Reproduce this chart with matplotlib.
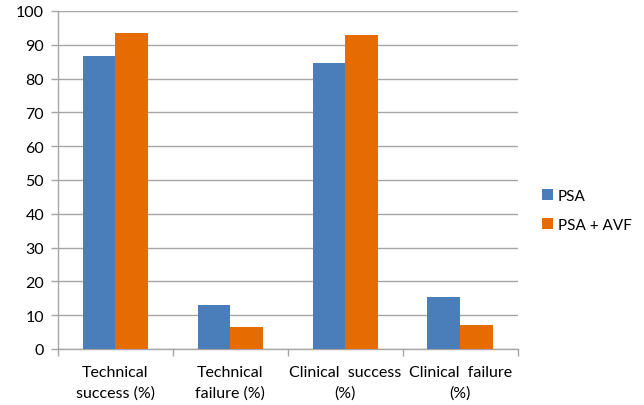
import matplotlib.pyplot as plt
import numpy as np

plt.rcParams['font.family'] = ['Lato', 'DejaVu Sans']

# categorias e valores (%)
categorias = ['Technical\nsuccess (%)', 'Technical\nfailure (%)',
              'Clinical  success\n(%)', 'Clinical  failure\n(%)']
psa = [86.6, 13.0, 84.6, 15.3]
psa_avf = [93.4, 6.5, 92.9, 7.0]
series = ['PSA', 'PSA + AVF']

azul = '#4a7ebb'
laranja = '#e66c02'
cinza = '#a6a6a6'

fig = plt.figure(figsize=(6.44, 4.06), dpi=100)
ax = fig.add_axes([0.090, 0.138, 0.714, 0.8325])

x = np.arange(len(categorias))
w = 1 / 3.5  # gap de 150% entre grupos
ax.bar(x - w / 2, psa, w, color=azul, label=series[0], zorder=3)
ax.bar(x + w / 2, psa_avf, w, color=laranja, label=series[1], zorder=3)

ax.set_xlim(-0.5, len(categorias) - 0.5)
ax.set_ylim(0, 100)
ax.set_yticks(np.arange(0, 101, 10))
ax.yaxis.grid(True, color=cinza, linewidth=1, zorder=0)

# ticks do eixo x nas fronteiras das categorias
ax.set_xticks(np.arange(len(categorias) + 1) - 0.5)
ax.set_xticklabels([])
ax.tick_params(axis='x', length=5, color=cinza, width=1)
ax.tick_params(axis='y', length=5, color=cinza, width=1, labelsize=11.5, pad=5)
for i, cat in enumerate(categorias):
    ax.text(i, -4.8, cat, ha='center', va='top', fontsize=11.5,
            linespacing=1.55, transform=ax.transData)

for lado in ['top', 'right']:
    ax.spines[lado].set_visible(False)
for lado in ['left', 'bottom']:
    ax.spines[lado].set_color(cinza)
    ax.spines[lado].set_linewidth(1)

fig.legend(loc='upper left', bbox_to_anchor=(0.82, 0.567), frameon=False,
           fontsize=11, handlelength=0.75, handleheight=0.75,
           handletextpad=0.3, labelspacing=1.0)

fig.savefig('out.png', dpi=100)
